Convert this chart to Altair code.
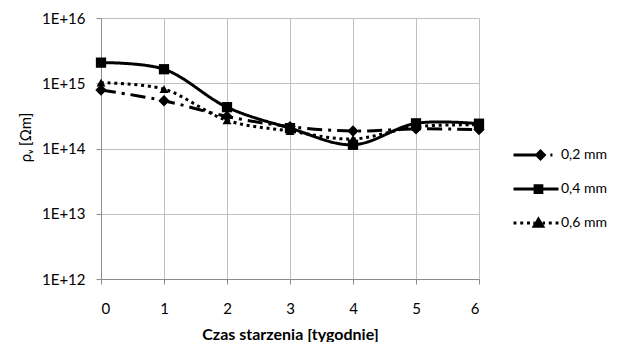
import altair as alt
import pandas as pd

weeks = [0, 1, 2, 3, 4, 5, 6]
series_names = ["0,2 mm", "0,4 mm", "0,6 mm"]
rho_02 = [7.9e14, 5.4e14, 3.1e14, 2.16e14, 1.85e14, 2.0e14, 1.95e14]
rho_04 = [2.07e15, 1.64e15, 4.3e14, 2.05e14, 1.14e14, 2.43e14, 2.4e14]
rho_06 = [1.02e15, 8.1e14, 2.7e14, 1.85e14, 1.4e14, 2.16e14, 2.3e14]
y_ticks = [1e12, 1e13, 1e14, 1e15, 1e16]

rows = []
for name, vals in zip(series_names, [rho_02, rho_04, rho_06]):
    for w, v in zip(weeks, vals):
        rows.append({"series": name, "week": w, "rho": v})
df = pd.DataFrame(rows)

FONT = "Lato"
dash_range = [[15, 6, 3, 6], [1, 0], [3, 3.7]]
shape_range = ["diamond", "square", "triangle-up"]
size_range = [130, 81, 110]


# legend symbols: line segment + (solid) marker, as custom paths (unit = sqrt(size)/2)
def diamond(c, r):
    return f"M{c - r:.3f},0L{c:.3f},{-r:.3f}L{c + r:.3f},0L{c:.3f},{r:.3f}Z"


def square(c, r):
    return f"M{c - r:.3f},{-r:.3f}H{c + r:.3f}V{r:.3f}H{c - r:.3f}Z"


def triangle(c, r):
    return f"M{c:.3f},{-r:.3f}L{c + r * 1.1:.3f},{r * 0.85:.3f}L{c - r * 1.1:.3f},{r * 0.85:.3f}Z"


leg_paths = [
    "M-1,0H0.05M0.64,0H0.73" + diamond(0.2, 0.17) + diamond(0.2, 0.07) + diamond(0.2, 0.01),
    "M-1,0H1" + square(0.11, 0.15) + square(0.11, 0.06) + square(0.11, 0.01),
    "M-1,0H-0.87M-0.7,0H-0.57M-0.4,0H-0.27M-0.12,0H-0.06M0.3,0H0.4M0.57,0H0.7M0.87,0H1"
    + triangle(0.11, 0.17) + triangle(0.11, 0.07) + triangle(0.11, 0.01),
]

x_enc = alt.X("week:Q", scale=alt.Scale(domain=[0, 6], nice=False),
              axis=alt.Axis(values=weeks, title="Czas starzenia [tygodnie]", format="d",
                            titleFontWeight="bold", titleFontSize=16, titleY=55,
                            titleBaseline="middle", labelPadding=17))
y_enc = alt.Y("rho:Q", scale=alt.Scale(type="log", domain=[1e12, 1e16], nice=False),
              axis=alt.Axis(values=y_ticks, title="ρᵥ [Ωm]",
                            labelExpr="'1E+' + round(log(datum.value)/LN10)",
                            titleFontWeight="normal", titleFontSize=15,
                            titleX=-68, titleY=119, labelPadding=11))

base = alt.Chart(df)

lines = base.mark_line(color="black", strokeWidth=3, interpolate="catmull-rom", strokeCap="butt").encode(
    x=x_enc, y=y_enc,
    strokeDash=alt.StrokeDash("series:N", scale=alt.Scale(domain=series_names, range=dash_range), legend=None),
)

points = base.mark_point(filled=True, color="black", opacity=1).encode(
    x=x_enc, y=y_enc,
    shape=alt.Shape("series:N", scale=alt.Scale(domain=series_names, range=shape_range), legend=None),
    size=alt.Size("series:N", scale=alt.Scale(domain=series_names, range=size_range), legend=None),
)

legend_layer = base.transform_filter("false").mark_point(
    filled=False, color="black", strokeWidth=3, strokeCap="butt"
).encode(
    x=x_enc, y=y_enc,
    shape=alt.Shape("series:N", scale=alt.Scale(domain=series_names, range=leg_paths),
                    legend=alt.Legend(title=None, orient="none", legendX=411, legendY=113,
                                      symbolSize=2025, symbolStrokeColor="black",
                                      symbolStrokeWidth=3,
                                      symbolOpacity=1, labelOffset=1, rowPadding=-16.5,
                                      padding=0, labelFont=FONT, labelFontSize=14,
                                      labelColor="black")),
)

chart = alt.layer(lines, points, legend_layer).resolve_scale(
    shape="independent"
).properties(
    width=378, height=261,
    autosize=alt.AutoSizeParams(type="none"),
    padding={"left": 93, "top": 10, "right": 130, "bottom": 63},
).configure_view(stroke="transparent").configure_axis(
    labelFont=FONT, titleFont=FONT, labelFontSize=15, titleFontSize=14,
    labelColor="black", titleColor="black",
    gridColor="#bfbfbf", gridWidth=1, domainColor="#8c8c8c", tickColor="#8c8c8c",
    tickSize=5, domainWidth=1,
)

chart.save("out.html", embed_options={"renderer": "svg", "actions": False})
